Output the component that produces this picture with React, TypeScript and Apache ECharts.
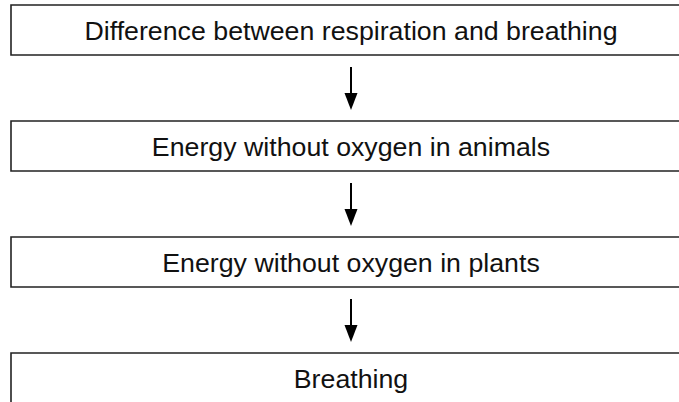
import React, { useEffect, useRef } from "react";
import * as echarts from "echarts";

const steps = [
  "Difference between respiration and breathing",
  "Energy without oxygen in animals",
  "Energy without oxygen in plants",
  "Breathing",
];

export default function App() {
  const ref = useRef<HTMLDivElement>(null);
  useEffect(() => {
    if (!ref.current) return;
    const chart = echarts.init(ref.current, null, { renderer: "svg" });
    const left = 11;
    const right = 692;
    const boxH = 50;
    const top0 = 5;
    const pitch = 116;
    const cx = 351;
    const elements: any[] = [];
    steps.forEach((s, i) => {
      const y = top0 + i * pitch;
      elements.push({
        type: "rect",
        shape: { x: left, y, width: right - left, height: boxH },
        style: { fill: "#fff", stroke: "#222", lineWidth: 1.6 },
      });
      elements.push({
        type: "text",
        x: cx,
        y: y + boxH / 2 + 1,
        scaleX: 1.07,
        style: {
          text: s,
          fill: "#111",
          font: '25px "Liberation Sans", Arial, sans-serif',
          align: "center",
          verticalAlign: "middle",
        },
      });
      if (i < steps.length - 1) {
        const ay0 = y + boxH + 12;
        const ay1 = y + pitch - 11;
        elements.push({
          type: "line",
          shape: { x1: cx, y1: ay0, x2: cx, y2: ay1 - 14 },
          style: { stroke: "#000", lineWidth: 2 },
        });
        elements.push({
          type: "polygon",
          shape: { points: [[cx - 6.5, ay1 - 17], [cx + 6.5, ay1 - 17], [cx, ay1]] },
          style: { fill: "#000" },
        });
      }
    });
    chart.setOption({ animation: false, graphic: { elements } });
    return () => chart.dispose();
  }, []);
  return <div ref={ref} style={{ width: 679, height: 402, position: "fixed", left: 0, top: 0, background: "#fff" }} />;
}
